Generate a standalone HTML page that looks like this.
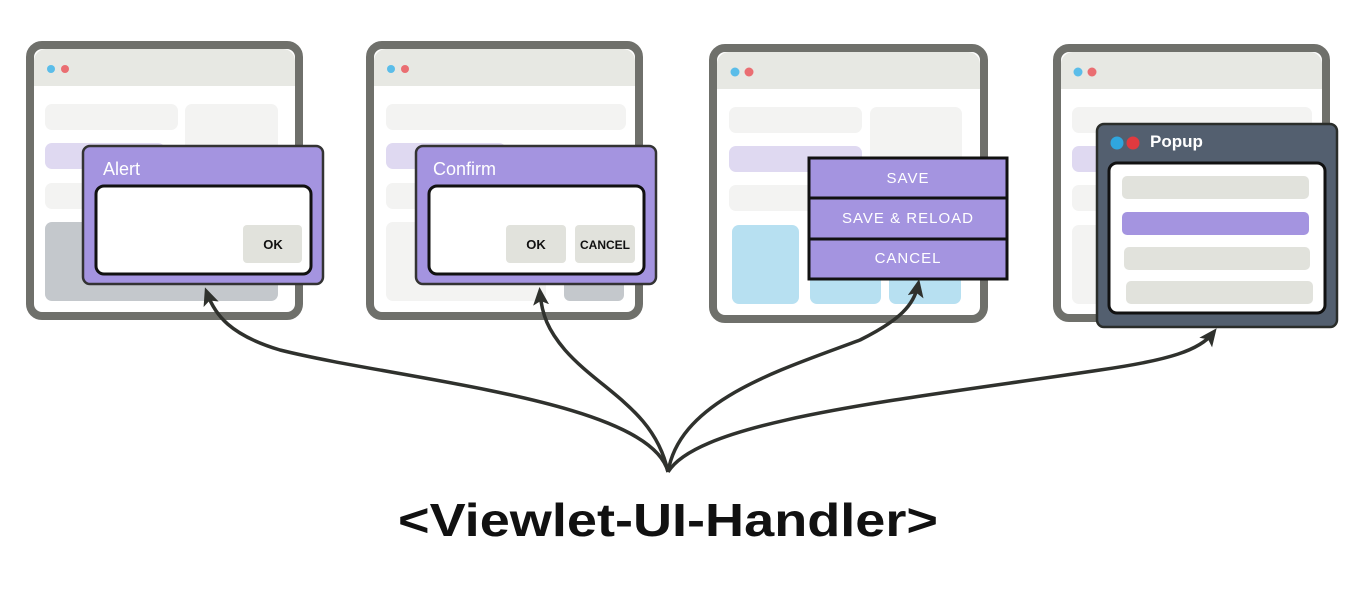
<!DOCTYPE html>
<html><head><meta charset="utf-8"><style>html,body{margin:0;padding:0;background:#fff;}svg{display:block}</style></head><body>
<svg width="1360" height="615" viewBox="0 0 1360 615" xmlns="http://www.w3.org/2000/svg" font-family="Liberation Sans, sans-serif">
<defs>
<marker id="ah" markerWidth="20" markerHeight="20" refX="12" refY="8" orient="auto" markerUnits="userSpaceOnUse"><path d="M0,0 L18,8 L0,16 L4,8 Z" fill="#2f312d"/></marker>
</defs>
<!-- Browser 1 -->
<g>
<rect x="30" y="45" width="269" height="271" rx="12" fill="#fff" stroke="#6f706b" stroke-width="8"/>
<path d="M34,86 V61 a12,12 0 0 1 12,-12 H283 a12,12 0 0 1 12,12 V86 Z" fill="#e7e8e3"/>
<circle cx="51" cy="69" r="4" fill="#5bbde9"/><circle cx="65" cy="69" r="4" fill="#ea6e72"/>
<rect x="45" y="104" width="133" height="26" rx="7" fill="#f3f3f2"/>
<rect x="185" y="104" width="93" height="90" rx="7" fill="#f3f3f2"/>
<rect x="45" y="143" width="120" height="26" rx="7" fill="#dfd9f1"/>
<rect x="45" y="183" width="120" height="26" rx="7" fill="#f3f3f2"/>
<rect x="45" y="222" width="233" height="79" rx="7" fill="#c4c8cc"/>
<rect x="83" y="146" width="240" height="138" rx="7" fill="#a494e0" stroke="#333" stroke-width="2.5"/>
<text x="103" y="175" font-size="18" fill="#fff">Alert</text>
<rect x="96" y="186" width="215" height="88" rx="8" fill="#fff" stroke="#111" stroke-width="3"/>
<rect x="243" y="225" width="59" height="38" rx="4" fill="#e1e2dc"/>
<text x="273" y="249" font-size="13" font-weight="bold" text-anchor="middle" fill="#111">OK</text>
</g>
<!-- Browser 2 -->
<g>
<rect x="370" y="45" width="269" height="271" rx="12" fill="#fff" stroke="#6f706b" stroke-width="8"/>
<path d="M374,86 V61 a12,12 0 0 1 12,-12 H623 a12,12 0 0 1 12,12 V86 Z" fill="#e7e8e3"/>
<circle cx="391" cy="69" r="4" fill="#5bbde9"/><circle cx="405" cy="69" r="4" fill="#ea6e72"/>
<rect x="386" y="104" width="240" height="26" rx="7" fill="#f3f3f2"/>
<rect x="386" y="143" width="120" height="26" rx="7" fill="#dfd9f1"/>
<rect x="386" y="183" width="120" height="26" rx="7" fill="#f3f3f2"/>
<rect x="386" y="222" width="160" height="79" rx="7" fill="#f3f3f2"/>
<rect x="564" y="275" width="60" height="26" rx="6" fill="#c4c8cc"/>
<rect x="416" y="146" width="240" height="138" rx="7" fill="#a494e0" stroke="#333" stroke-width="2.5"/>
<text x="433" y="175" font-size="18" fill="#fff">Confirm</text>
<rect x="429" y="186" width="215" height="88" rx="8" fill="#fff" stroke="#111" stroke-width="3"/>
<rect x="506" y="225" width="60" height="38" rx="4" fill="#e1e2dc"/>
<text x="536" y="249" font-size="13" font-weight="bold" text-anchor="middle" fill="#111">OK</text>
<rect x="575" y="225" width="60" height="38" rx="4" fill="#e1e2dc"/>
<text x="605" y="249" font-size="12" font-weight="bold" text-anchor="middle" fill="#111">CANCEL</text>
</g>
<!-- Browser 3 -->
<g>
<rect x="713" y="48" width="271" height="271" rx="12" fill="#fff" stroke="#6f706b" stroke-width="8"/>
<path d="M717,89 V64 a12,12 0 0 1 12,-12 H968 a12,12 0 0 1 12,12 V89 Z" fill="#e7e8e3"/>
<circle cx="735" cy="72" r="4.5" fill="#5bbde9"/><circle cx="749" cy="72" r="4.5" fill="#ea6e72"/>
<rect x="729" y="107" width="133" height="26" rx="7" fill="#f3f3f2"/>
<rect x="870" y="107" width="92" height="90" rx="7" fill="#f3f3f2"/>
<rect x="729" y="146" width="133" height="26" rx="7" fill="#dfd9f1"/>
<rect x="729" y="185" width="133" height="26" rx="7" fill="#f3f3f2"/>
<rect x="732" y="225" width="67" height="79" rx="7" fill="#b7e0f1"/>
<rect x="810" y="225" width="71" height="79" rx="7" fill="#b7e0f1"/>
<rect x="889" y="225" width="72" height="79" rx="7" fill="#b7e0f1"/>
<rect x="809" y="158" width="198" height="121" fill="#a494e0" stroke="#111" stroke-width="3"/>
<line x1="809" y1="198" x2="1007" y2="198" stroke="#111" stroke-width="3"/>
<line x1="809" y1="239" x2="1007" y2="239" stroke="#111" stroke-width="3"/>
<text x="908" y="183" font-size="15" text-anchor="middle" fill="#fff" letter-spacing="1">SAVE</text>
<text x="908" y="223" font-size="15" text-anchor="middle" fill="#fff" letter-spacing="1">SAVE &amp; RELOAD</text>
<text x="908" y="263" font-size="15" text-anchor="middle" fill="#fff" letter-spacing="1">CANCEL</text>
</g>
<!-- Browser 4 -->
<g>
<rect x="1057" y="48" width="269" height="270" rx="12" fill="#fff" stroke="#6f706b" stroke-width="8"/>
<path d="M1061,89 V64 a12,12 0 0 1 12,-12 H1310 a12,12 0 0 1 12,12 V89 Z" fill="#e7e8e3"/>
<circle cx="1078" cy="72" r="4.5" fill="#5bbde9"/><circle cx="1092" cy="72" r="4.5" fill="#ea6e72"/>
<rect x="1072" y="107" width="240" height="26" rx="7" fill="#f3f3f2"/>
<rect x="1072" y="146" width="40" height="26" rx="7" fill="#dfd9f1"/>
<rect x="1072" y="185" width="40" height="26" rx="7" fill="#f3f3f2"/>
<rect x="1072" y="225" width="40" height="79" rx="7" fill="#f3f3f2"/>
<rect x="1097" y="124" width="240" height="203" rx="7" fill="#535f6f" stroke="#2a2d2a" stroke-width="2.5"/>
<circle cx="1117" cy="143" r="6.5" fill="#2fa6de"/><circle cx="1133" cy="143" r="6.5" fill="#e03a3f"/>
<text x="1150" y="147" font-size="17" font-weight="bold" fill="#fff">Popup</text>
<rect x="1109" y="163" width="216" height="150" rx="8" fill="#fff" stroke="#111" stroke-width="3"/>
<rect x="1122" y="176" width="187" height="23" rx="5" fill="#e1e2dc"/>
<rect x="1122" y="212" width="187" height="23" rx="5" fill="#a494e0"/>
<rect x="1124" y="247" width="186" height="23" rx="5" fill="#e1e2dc"/>
<rect x="1126" y="281" width="187" height="23" rx="5" fill="#e1e2dc"/>
</g>
<!-- arrows -->
<g fill="none" stroke="#2f312d" stroke-width="3.5" marker-end="url(#ah)">
<path d="M668,472 C650,400 400,380 280,350 C230,335 215,315 207,293"/>
<path d="M668,472 C655,410 600,390 565,350 C548,330 542,315 540,293"/>
<path d="M668,472 C680,400 780,370 860,340 C900,320 914,305 918,285"/>
<path d="M668,472 C700,420 900,400 1100,370 C1170,360 1200,350 1213,333"/>
</g>
<text x="668" y="536" font-size="46" font-weight="bold" text-anchor="middle" fill="#111" textLength="540" lengthAdjust="spacingAndGlyphs" font-family="Liberation Sans, sans-serif">&lt;Viewlet-UI-Handler&gt;</text>
</svg>
</body></html>
